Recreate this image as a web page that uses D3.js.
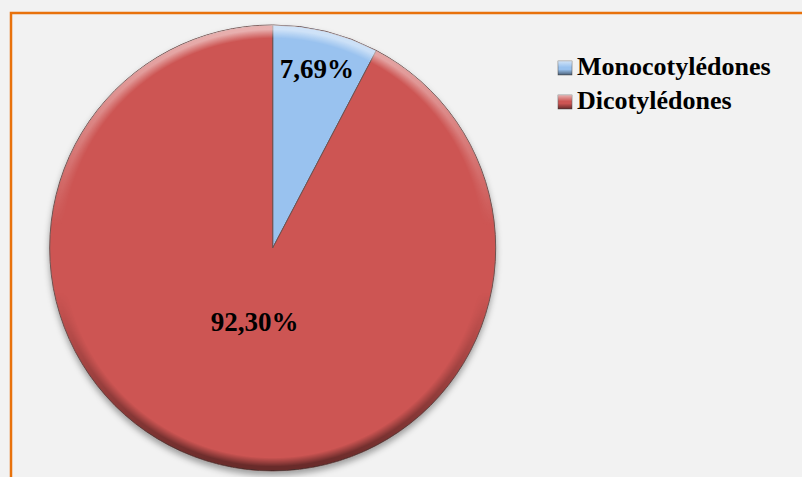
<!DOCTYPE html>
<html>
<head>
<meta charset="utf-8">
<script src="https://cdn.jsdelivr.net/npm/d3@7"></script>
<style>
  html, body { margin: 0; padding: 0; background: #f2f2f2; }
  svg { display: block; }
</style>
</head>
<body>
<div id="chart"></div>
<script>
// données du graphique
const categories = ["Monocotylédones", "Dicotylédones"];
const valeurs = [7.69, 92.30];
const etiquettes = ["7,69%", "92,30%"];

const largeur = 802;
const hauteur = 477;
const cx = 272.7, cy = 248, rayon = 223;

const couleurs = d3.scaleOrdinal()
    .domain(categories)
    .range(["#99c2ef", "#cd5553"]);

const svg = d3.select("#chart").append("svg")
    .attr("width", largeur)
    .attr("height", hauteur);

const defs = svg.append("defs");

// ombre portée
const ombre = defs.append("filter").attr("id", "ombre")
    .attr("x", "-10%").attr("y", "-10%").attr("width", "120%").attr("height", "125%");
ombre.append("feDropShadow")
    .attr("dx", 0).attr("dy", 4).attr("stdDeviation", 3)
    .attr("flood-color", "#000").attr("flood-opacity", 0.35);

// dégradé du biseau : clair en haut, sombre en bas
const biseau = defs.append("linearGradient").attr("id", "biseau")
    .attr("x1", 0).attr("y1", 0).attr("x2", 0).attr("y2", 1);
biseau.append("stop").attr("offset", "0%").attr("stop-color", "#fff").attr("stop-opacity", 0.55);
biseau.append("stop").attr("offset", "45%").attr("stop-color", "#fff").attr("stop-opacity", 0.0);
biseau.append("stop").attr("offset", "60%").attr("stop-color", "#000").attr("stop-opacity", 0.0);
biseau.append("stop").attr("offset", "100%").attr("stop-color", "#000").attr("stop-opacity", 0.5);

const fondu = defs.append("radialGradient").attr("id", "fondu");
fondu.append("stop").attr("offset", "94%").attr("stop-color", "#fff").attr("stop-opacity", 0);
fondu.append("stop").attr("offset", "98%").attr("stop-color", "#fff").attr("stop-opacity", 1);
fondu.append("stop").attr("offset", "100%").attr("stop-color", "#fff").attr("stop-opacity", 1);
defs.append("mask").attr("id", "masqueBord")
    .attr("maskUnits", "userSpaceOnUse")
    .attr("x", 0).attr("y", 0).attr("width", largeur).attr("height", hauteur)
  .append("circle")
    .attr("cx", cx).attr("cy", cy).attr("r", rayon)
    .attr("fill", "url(#fondu)");

// cadre orange
svg.append("rect")
    .attr("x", 11).attr("y", 13)
    .attr("width", largeur + 20).attr("height", hauteur + 20)
    .attr("fill", "#f2f2f2")
    .attr("stroke", "#e8720c")
    .attr("stroke-width", 2.5);

const donnees = categories.map((c, i) => ({ nom: c, valeur: valeurs[i], texte: etiquettes[i] }));

const pie = d3.pie().value(d => d.valeur).sort(null);
const arc = d3.arc().innerRadius(0).outerRadius(rayon);
const parts = pie(donnees);

const g = svg.append("g").attr("transform", `translate(${cx},${cy})`);

g.append("g").attr("filter", "url(#ombre)")
  .selectAll("path")
  .data(parts)
  .enter()
  .append("path")
    .attr("d", arc)
    .attr("fill", d => couleurs(d.data.nom))
    .attr("stroke", "#6e5250")
    .attr("stroke-width", 1);

// effet de biseau sur le bord
g.append("circle")
    .attr("r", rayon)
    .attr("fill", "url(#biseau)")
    .attr("transform", `translate(${-cx},${-cy})`)
    .attr("cx", cx).attr("cy", cy)
    .attr("mask", "url(#masqueBord)");

// étiquettes
const rayonsEtiquette = [0.83, 0.34];
g.selectAll("text")
  .data(parts)
  .enter()
  .append("text")
    .attr("transform", d => {
        const r = rayon * rayonsEtiquette[d.index];
        const c = d3.arc().innerRadius(r).outerRadius(r).centroid(d);
        return `translate(${c})`;
    })
    .attr("dy", "0.35em")
    .attr("text-anchor", "middle")
    .style("font-family", "'Liberation Serif', 'Times New Roman', serif")
    .style("font-weight", "bold")
    .style("font-size", "27px")
    .style("fill", "#000")
    .text(d => d.data.texte);

// légende
const legende = svg.append("g").attr("transform", "translate(558,61)");
const lignes = legende.selectAll("g")
  .data(categories)
  .enter()
  .append("g")
    .attr("transform", (d, i) => `translate(0,${i * 34})`);

lignes.append("rect")
    .attr("width", 14).attr("height", 14)
    .attr("fill", d => couleurs(d))
    .attr("stroke", "#666")
    .attr("stroke-width", 0.6);
lignes.append("rect")
    .attr("width", 14).attr("height", 14)
    .attr("fill", "url(#biseau)");

lignes.append("text")
    .attr("x", 19).attr("y", 14)
    .style("font-family", "'Liberation Serif', 'Times New Roman', serif")
    .style("font-weight", "bold")
    .style("font-size", "26px")
    .style("fill", "#000")
    .text(d => d);
</script>
</body>
</html>
